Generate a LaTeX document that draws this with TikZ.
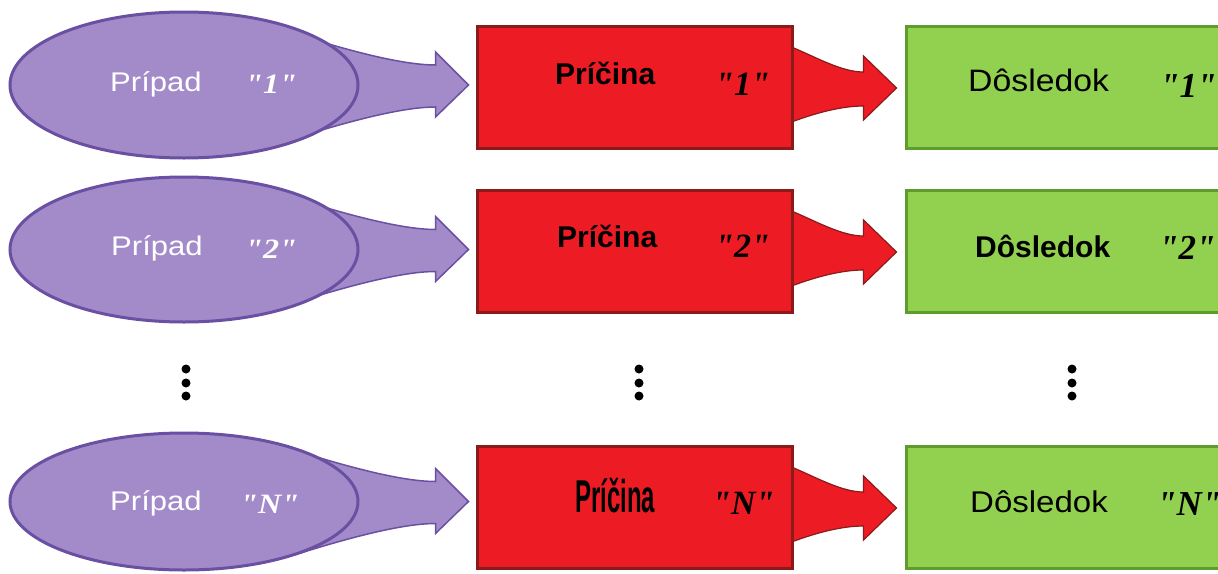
\documentclass[tikz,border=0pt]{standalone}
\usepackage{fontspec}
\setmainfont{Liberation Sans}
\newfontfamily\numfont{Liberation Serif}
\usepackage{graphicx}
\usetikzlibrary{shapes.geometric,calc}
\pgfdeclarelayer{background}
\pgfsetlayers{background,main}
\definecolor{pfill}{HTML}{A38BC9}
\definecolor{pline}{HTML}{6A50A3}
\definecolor{rfill}{HTML}{ED1C24}
\definecolor{rline}{HTML}{8B1A1A}
\definecolor{gfill}{HTML}{92D050}
\definecolor{gline}{HTML}{5E9C2E}
\newcommand\sx[2]{\scalebox{#1}[1]{#2}}
\newcommand\fs[1]{\fontsize{#1}{#1}\selectfont}
\tikzset{
  caseell/.style={ellipse, draw=pline, fill=pfill, line width=3pt, inner sep=0pt, minimum width=348},
  causebox/.style={rectangle, draw=rline, fill=rfill, line width=3pt, inner sep=0pt, minimum width=315, minimum height=122},
  effbox/.style={rectangle, draw=gline, fill=gfill, line width=3pt, inner sep=0pt, minimum width=344, minimum height=122},
  parrow/.style={draw=pline, fill=pfill, line width=1.5pt, line join=miter},
  rarrow/.style={draw=rline, fill=rfill, line width=1.2pt, line join=miter},
  lbl/.style={anchor=base west, inner sep=0pt},
  wlbl/.style={lbl, text=white},
  vdot/.style={circle, fill=black, inner sep=0pt, minimum size=9},
}
\newcommand\purplearrow[2]{%
  \begin{pgfonlayer}{background}
  \path[parrow]
    ($(#1.center)+(115,-50)$) .. controls ($(#1.center)+(185,-28)$) and ($(#1.center -| #2.west)+(-65,-20)$) ..
    ($(#1.center -| #2.west)+(-40,-20)$) -- ($(#1.center -| #2.west)+(-40,-33)$) --
    ($(#1.center -| #2.west)+(-7,0)$) -- ($(#1.center -| #2.west)+(-40,32)$) --
    ($(#1.center -| #2.west)+(-40,22)$) .. controls ($(#1.center -| #2.west)+(-65,22)$) and ($(#1.center)+(185,30)$) ..
    ($(#1.center)+(115,52)$) -- cycle;
  \end{pgfonlayer}}
\newcommand\redarrow[2]{%
  \begin{pgfonlayer}{background}
  \path[rarrow]
    ($(#1.east)+(-2,-40)$) .. controls ($(#1.east)+(22,-30)$) and ($(#1.east -| #2.west)+(-63,-15)$) ..
    ($(#1.east -| #2.west)+(-41,-15)$) -- ($(#1.east -| #2.west)+(-41,-31)$) --
    ($(#1.east -| #2.west)+(-8,1)$) -- ($(#1.east -| #2.west)+(-41,33)$) --
    ($(#1.east -| #2.west)+(-41,19)$) .. controls ($(#1.east -| #2.west)+(-63,19)$) and ($(#1.east)+(22,26)$) ..
    ($(#1.east)+(-2,35)$) -- cycle;
  \end{pgfonlayer}}
\begin{document}
\begin{tikzpicture}[x=1pt,y=-1pt]
\useasboundingbox (0,0) rectangle (1218,573);
\clip (0,0) rectangle (1218,573);
% row 1
\node[caseell, minimum height=146] (p1) at (184,85) {};
\node[causebox] (c1) at (634.5,87) {};
\node[effbox] (d1) at (1078,87) {};
% row 2
\node[caseell, minimum height=145] (p2) at (184,249.5) {};
\node[causebox] (c2) at (634.5,251) {};
\node[effbox] (d2) at (1078,251) {};
% row N
\node[caseell, minimum height=137] (pN) at (184,501.5) {};
\node[causebox] (cN) at (634.5,507) {};
\node[effbox] (dN) at (1078,507) {};
% arrows
\purplearrow{p1}{c1}
\purplearrow{p2}{c2}
\purplearrow{pN}{cN}
\redarrow{c1}{d1}
\redarrow{c2}{d2}
\redarrow{cN}{dN}
% labels row 1
\node[wlbl, font=\fs{27}] (tp1) at (110,91) {\sx{1.15}{Prípad}};
\node[wlbl, font=\numfont\bfseries\itshape\fs{28}] (np1) at (245,93) {\sx{1.15}{"1"}};
\node[lbl, font=\bfseries\fs{30}] (tc1) at (555,84) {Príčina};
\node[lbl, font=\numfont\bfseries\itshape\fs{34}] (nc1) at (715,95) {"1"};
\node[lbl, font=\fs{31}] (td1) at (968,91) {\sx{1.09}{Dôsledok}};
\node[lbl, font=\numfont\bfseries\itshape\fs{35}] (nd1) at (1160,97) {"1"};
% labels row 2
\node[wlbl, font=\fs{27}] (tp2) at (111,255) {\sx{1.15}{Prípad}};
\node[wlbl, font=\numfont\bfseries\itshape\fs{28}] (np2) at (245,258) {\sx{1.15}{"2"}};
\node[lbl, font=\bfseries\fs{30}] (tc2) at (557,247) {Príčina};
\node[lbl, font=\numfont\bfseries\itshape\fs{34}] (nc2) at (715,257) {"2"};
\node[lbl, font=\bfseries\fs{30}] (td2) at (975,257) {Dôsledok};
\node[lbl, font=\numfont\bfseries\itshape\fs{35}] (nd2) at (1159,259) {"2"};
% labels row N
\node[wlbl, font=\fs{27}] (tpN) at (110,510) {\sx{1.15}{Prípad}};
\node[wlbl, font=\numfont\bfseries\itshape\fs{28}] (npN) at (240,513) {\sx{1.15}{"N"}};
\node[lbl, font=\bfseries\fs{46}] (tcN) at (575,512) {\sx{0.52}{Príčina}};
\node[lbl, font=\numfont\bfseries\itshape\fs{34}] (ncN) at (712,514) {"N"};
\node[lbl, font=\fs{30}] (tdN) at (970,512) {\sx{1.1}{Dôsledok}};
\node[lbl, font=\numfont\bfseries\itshape\fs{35}] (ndN) at (1157,515) {"N"};
% vertical dots
\foreach \x/\n in {186/a,639/b,1072/c}{
  \node[vdot] (dt\n1) at (\x,369) {};
  \node[vdot] (dt\n2) at (\x,383) {};
  \node[vdot] (dt\n3) at (\x,396) {};
}
\end{tikzpicture}
\end{document}
